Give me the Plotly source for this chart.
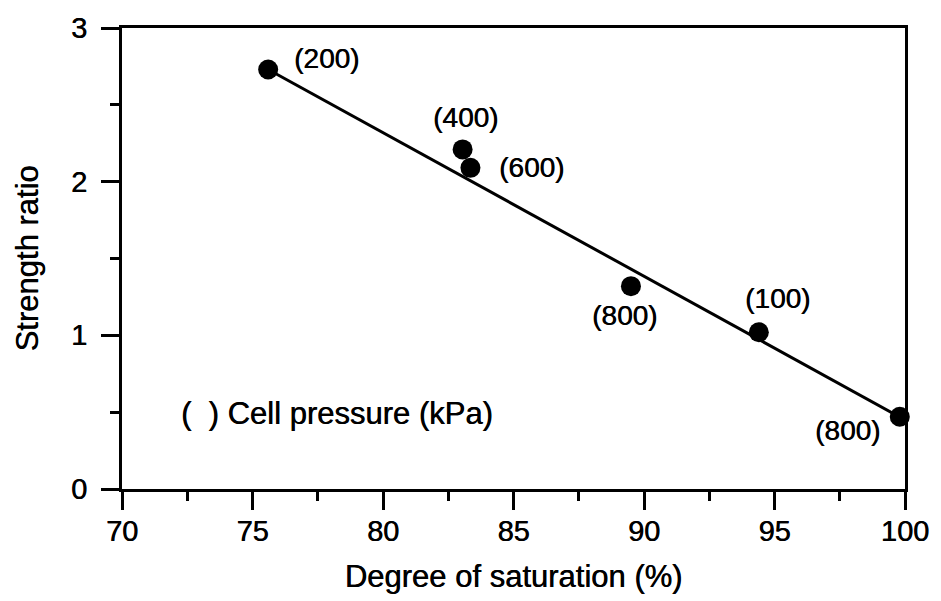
import plotly.graph_objects as go

# Data
saturation = [75.6, 83.05, 83.35, 89.5, 94.4, 99.8]
strength_ratio = [2.73, 2.21, 2.09, 1.32, 1.02, 0.47]
cell_pressure = ["(200)", "(400)", "(600)", "(800)", "(100)", "(800)"]
label_x = [77.85, 83.15, 85.7, 89.25, 95.1, 97.8]
label_y = [2.80, 2.42, 2.09, 1.13, 1.24, 0.38]
fit_x = [75.6, 100.0]
fit_y = [2.73, 0.45]
x_ticks = [70, 75, 80, 85, 90, 95, 100]
y_ticks = [0, 1, 2, 3]

FONT = "Liberation Sans, Arial, sans-serif"
SHADOW = "0.5px 0px 0px black"


def f(size):
    return dict(family=FONT, size=size, color="black", shadow=SHADOW)


fig = go.Figure()
fig.add_trace(go.Scatter(x=fit_x, y=fit_y, mode="lines",
                         line=dict(color="black", width=3), showlegend=False,
                         cliponaxis=False))
fig.add_trace(go.Scatter(x=saturation, y=strength_ratio, mode="markers",
                         marker=dict(color="black", size=20), showlegend=False,
                         cliponaxis=False))

for t, x, y in zip(cell_pressure, label_x, label_y):
    fig.add_annotation(x=x, y=y, xref="x", yref="y", text=t, showarrow=False,
                       font=f(28))

fig.add_annotation(x=72.2, y=0.49, xref="x", yref="y", text="(  ) Cell pressure (kPa)",
                   showarrow=False, xanchor="left", font=f(31))

fig.update_xaxes(range=[70, 100], tickvals=x_ticks, ticktext=[str(v) for v in x_ticks],
                 showline=True, linecolor="black", linewidth=3, mirror=True,
                 ticks="outside", ticklen=18, tickwidth=3, tickcolor="black",
                 ticklabelstandoff=-4,
                 minor=dict(dtick=2.5, tick0=70, ticks="outside", ticklen=9, tickwidth=3, tickcolor="black"),
                 showgrid=False, zeroline=False,
                 tickfont=f(29),
                 title=dict(text="Degree of saturation (%)", standoff=20, font=f(31)))
fig.update_yaxes(range=[0, 3], tickvals=y_ticks, ticktext=[str(v) for v in y_ticks],
                 showline=True, linecolor="black", linewidth=3, mirror=True,
                 ticks="outside", ticklen=18, tickwidth=3, tickcolor="black",
                 ticklabelstandoff=8,
                 minor=dict(dtick=0.5, tick0=0, ticks="outside", ticklen=9, tickwidth=3, tickcolor="black"),
                 showgrid=False, zeroline=False,
                 tickfont=f(29),
                 title=dict(text="Strength ratio", standoff=24, font=f(31)))

fig.update_layout(width=941, height=601, margin=dict(l=122, r=31, t=19, b=112),
                  plot_bgcolor="white", paper_bgcolor="white")

fig.write_html("out.html")
